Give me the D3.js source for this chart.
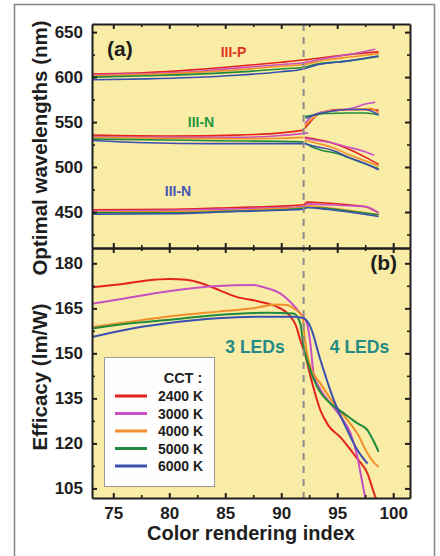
<!DOCTYPE html>
<html>
<head>
<meta charset="utf-8">
<script src="https://cdn.jsdelivr.net/npm/d3@7/dist/d3.min.js"></script>
<style>
  html, body { margin: 0; padding: 0; background: #ffffff; }
  svg { display: block; }
  text { font-family: "Liberation Sans", Arial, Helvetica, sans-serif; font-weight: bold; }
</style>
</head>
<body>
<svg id="chart" width="440" height="556"></svg>
<script>
// ---- Data ----
const cctLabels = ["2400 K", "3000 K", "4000 K", "5000 K", "6000 K"];
const cctColors = ["#e2231f", "#c94fc4", "#f0902c", "#1f8a3b", "#3a4fb0"];

const xTicks = [75, 80, 85, 90, 95, 100];
const wlTicks = [450, 500, 550, 600, 650];
const effTicks = [105, 120, 135, 150, 165, 180];
const ledBoundary = 92.0;   // CRI where the optimum switches from 3 to 4 LEDs

// (a) III-P red emitter wavelength, one list per CCT: [CRI, nm]
const wlRedP = [
  [[73.2,603.5],[78,605],[82,608],[86,612],[90,616.5],[92,619],[94,622],[96,625],[98.7,628]],
  [[73.2,602.5],[78,604],[82,606],[86,610],[90,614],[92,616],[94,621],[96,625],[98.4,631]],
  [[73.2,601.5],[78,603],[82,605],[86,608],[90,612],[92,614],[94,619],[96,622],[98.7,626]],
  [[73.2,600],[78,601.5],[82,603],[86,605.5],[90,609],[92,611],[93,614],[96,618],[98.7,623]],
  [[73.2,597],[78,598],[82,599.5],[86,602],[90,606],[92,609],[93,613],[96,618],[98.7,623.5]]
];
// (a) III-N green emitter, 3-LED solutions
const wlGreen3 = [
  [[73.2,535.5],[80,534.5],[86,535.5],[90,538],[92,541]],
  [[73.2,534],[80,533],[86,533],[90,535],[92.4,538]],
  [[73.2,533],[80,532],[86,531.5],[90,532],[92,533]],
  [[73.2,531],[80,530],[86,529],[90,528.5],[92,528]],
  [[73.2,529.5],[78,527],[84,526],[90,526],[92,526]]
];
// (a) 4-LED solutions: yellow-green emitter
const wlGreenUpper = [
  [[92.1,543],[92.6,550],[93.2,558],[94,562],[95,564],[96.5,564],[98,564],[98.7,563]],
  [[92.1,548],[92.7,556],[93.5,561],[95,563],[96.5,566],[97.5,570],[98.4,572]],
  [[92.1,546],[92.7,553],[93.5,560],[95,563],[96.5,564],[98,565],[98.7,560]],
  [[92.1,556],[93,558],[94,559.5],[96,560],[97.5,560],[98.7,558]],
  [[92.2,554],[93,558],[94,561],[96,564],[97.5,564],[98.7,558]]
];
// (a) 4-LED solutions: cyan-green emitter
const wlGreenLower = [
  [[92.1,533],[93,531],[94.5,527],[96,520],[97.5,511],[98.7,503]],
  [[92.1,532],[93,530],[94.5,527],[96,522],[97.5,517],[98.3,513]],
  [[92.1,530],[93,527],[94.5,522],[96,514],[97.5,507],[98.7,501]],
  [[92.1,527],[92.8,522],[93.5,519],[95,515],[96.5,508],[98.7,498]],
  [[92.1,526],[93,523],[94.5,519],[96,511],[97.5,504],[98.7,497]]
];
// (a) III-N blue emitter
const wlBlue = [
  [[73.2,452.5],[80,453],[86,455],[90,456.5],[92,458],[92.3,461],[94,460],[96,458],[97.5,456],[98.7,449]],
  [[73.2,451],[80,452],[86,453.5],[90,455],[92,456],[92.3,459],[94,458],[96,457],[97.5,456],[98.7,449]],
  [[73.2,450],[80,450.5],[86,452],[90,454],[92,455],[92.3,457],[94,455],[96,452],[98.7,447]],
  [[73.2,449],[80,449],[86,451],[90,452.5],[92,454],[92.3,455],[94,454],[96,451],[98.7,447]],
  [[73.2,447.5],[80,448],[86,450.5],[90,452],[92,453],[92.3,455],[94,453],[96,450],[98.7,445]]
];

// (b) luminous efficacy, one list per CCT: [CRI, lm/W]
const efficacy = [
  [[73.1,172],[76,173.2],[78,174.3],[80,174.8],[81.5,174.5],[83,173.2],[84.5,171],[86,168.8],[88,167.3],[89.5,165.7],[90.7,162.8],[91.3,159.4],[91.7,154.5],[92.1,150],[92.7,141],[93.5,131],[94.2,126],[95.3,122],[96.2,117.8],[96.9,114.4],[97.7,110],[98.2,104.4],[98.6,100]],
  [[73.1,166.5],[76,168.3],[79.8,170.6],[84.3,172.4],[87.5,172.8],[88.7,171.7],[89.9,170],[90.8,167.2],[91.7,163.3],[92.3,160],[92.6,153.3],[92.9,143],[93.5,138],[94.4,133.3],[95.3,128.9],[96.2,123.3],[96.8,115.5],[97.2,107.8],[97.6,100]],
  [[73.1,158.8],[76,160.3],[79.8,162.2],[84.3,163.9],[87.5,165],[89.6,166.3],[90.5,166.1],[91.1,165],[91.9,162.2],[92.1,155],[92.6,145.5],[93.5,140],[94.7,133.3],[95.9,127.8],[96.8,123.3],[97.7,116.7],[98.3,113.5],[98.7,112.2]],
  [[73.1,158.3],[76,159.8],[79.8,161.1],[84.3,162.8],[88.7,163.5],[91.1,163.3],[91.7,160],[92.0,152.2],[92.5,145.5],[93.2,138.9],[94.4,133.3],[95.6,130],[96.8,126.7],[97.7,124.4],[98.2,121.1],[98.7,117.2]],
  [[73.1,155.4],[76,157.8],[79.8,160],[84.3,161.7],[88.7,162.2],[91.1,162.2],[92.0,161.7],[92.6,158.9],[93.5,147.8],[94.7,134.4],[95.9,124.4],[96.8,117.8],[97.7,113.3]]
];

// ---- Layout ----
const svg = d3.select("#chart");
const L = 92, R = 410, T = 24, MID = 248, B = 498;
const plotBg = "#f9eca6";
const ink = "#1e1e1e";

const x = d3.scaleLinear().domain([73.1, 101.5]).range([L, R]);
const yA = d3.scaleLinear().domain([410, 659]).range([MID, T]);
const yB = d3.scaleLinear().domain([101.8, 185.1]).range([B, MID]);

// outer frame
svg.append("rect").attr("x", 14.5).attr("y", 4.5).attr("width", 420).attr("height", 600)
  .attr("fill", "#ffffff").attr("stroke", "#8a8a8a").attr("stroke-width", 1.6);

// plot backgrounds
svg.append("rect").attr("x", L).attr("y", T).attr("width", R - L).attr("height", B - T).attr("fill", plotBg);

const defs = svg.append("defs");
defs.append("clipPath").attr("id", "clipA").append("rect")
  .attr("x", L).attr("y", T).attr("width", R - L).attr("height", MID - T);
defs.append("clipPath").attr("id", "clipB").append("rect")
  .attr("x", L).attr("y", MID).attr("width", R - L).attr("height", B - MID);

// ---- Panel (a) curves ----
const lineA = d3.line().x(d => x(d[0])).y(d => yA(d[1])).curve(d3.curveMonotoneX);
const gA = svg.append("g").attr("clip-path", "url(#clipA)");
[wlRedP, wlGreen3, wlGreenUpper, wlGreenLower, wlBlue].forEach(group => {
  group.forEach((pts, i) => {
    gA.append("path").attr("d", lineA(pts)).attr("fill", "none")
      .attr("stroke", cctColors[i]).attr("stroke-width", 1.6).attr("stroke-linejoin", "round");
  });
});

// ---- Panel (b) curves ----
const lineB = d3.line().x(d => x(d[0])).y(d => yB(d[1])).curve(d3.curveMonotoneX);
const gB = svg.append("g").attr("clip-path", "url(#clipB)");
efficacy.forEach((pts, i) => {
  gB.append("path").attr("d", lineB(pts)).attr("fill", "none")
    .attr("stroke", cctColors[i]).attr("stroke-width", 2).attr("stroke-linejoin", "round");
});

// 3-LED / 4-LED boundary
svg.append("line").attr("x1", x(ledBoundary)).attr("x2", x(ledBoundary)).attr("y1", T).attr("y2", B)
  .attr("stroke", "#8c8c8c").attr("stroke-width", 2).attr("stroke-dasharray", "7,6");

// ---- Axes ----
function range(a, b, s) { const r = []; for (let v = a; v <= b + 1e-9; v += s) r.push(+v.toFixed(3)); return r; }
const xMinor = range(77.5, 97.5, 5);
const wlMinor = range(425, 625, 50);
const effMinor = range(112.5, 172.5, 15);

function drawAxis(gen, tx, ty, major, minor, labels) {
  const gMaj = svg.append("g").attr("transform", `translate(${tx},${ty})`)
    .call(gen.tickValues(major).tickSizeInner(-5).tickSizeOuter(0).tickPadding(labels ? 9 : 0)
      .tickFormat(labels ? d3.format("d") : () => ""));
  gMaj.select(".domain").attr("stroke", ink).attr("stroke-width", 2);
  gMaj.selectAll(".tick line").attr("stroke", ink).attr("stroke-width", 2);
  gMaj.selectAll(".tick text").attr("fill", ink).style("font-size", "17px").style("font-weight", "bold")
    .style("font-family", '"Liberation Sans", Arial, sans-serif');
  const gMin = svg.append("g").attr("transform", `translate(${tx},${ty})`)
    .call(gen.tickValues(minor).tickSizeInner(-3).tickSizeOuter(0).tickFormat(() => ""));
  gMin.select(".domain").remove();
  gMin.selectAll(".tick line").attr("stroke", ink).attr("stroke-width", 1.6);
}

// panel (a)
drawAxis(d3.axisLeft(yA), L, 0, wlTicks, wlMinor, true);
drawAxis(d3.axisRight(yA), R, 0, wlTicks, wlMinor, false);
drawAxis(d3.axisTop(x), 0, T, xTicks, xMinor, false);
drawAxis(d3.axisBottom(x), 0, MID, xTicks, xMinor, false);
// panel (b)
drawAxis(d3.axisLeft(yB), L, 0, effTicks, effMinor, true);
drawAxis(d3.axisRight(yB), R, 0, effTicks, effMinor, false);
drawAxis(d3.axisTop(x), 0, MID, xTicks, xMinor, false);
drawAxis(d3.axisBottom(x), 0, B, xTicks, xMinor, true);

// ---- Legend ----
const lg = svg.append("g");
lg.append("rect").attr("x", 104.5).attr("y", 357.5).attr("width", 110).attr("height", 129)
  .attr("fill", "#fefefe").attr("stroke", "#9a9a9a").attr("stroke-width", 1);
lg.append("text").attr("x", 183).attr("y", 383).attr("text-anchor", "middle")
  .attr("fill", ink).style("font-size", "14.5px").text("CCT :");
cctLabels.forEach((lab, i) => {
  const yy = 396 + i * 17.5;
  lg.append("line").attr("x1", 115).attr("x2", 147).attr("y1", yy).attr("y2", yy)
    .attr("stroke", cctColors[i]).attr("stroke-width", 3);
  lg.append("text").attr("x", 158).attr("y", yy + 5).attr("fill", ink)
    .style("font-size", "14px").text(lab);
});

// ---- Annotations ----
svg.append("text").attr("x", 107).attr("y", 56).attr("fill", ink).style("font-size", "21px").text("(a)");
svg.append("text").attr("x", 397).attr("y", 270).attr("text-anchor", "end").attr("fill", ink)
  .style("font-size", "21px").text("(b)");

svg.append("text").attr("x", 233.5).attr("y", 56.5).attr("text-anchor", "middle")
  .attr("fill", "#e0321e").style("font-size", "14px").text("III-P");
svg.append("text").attr("x", 201).attr("y", 127).attr("text-anchor", "middle")
  .attr("fill", "#25963c").style("font-size", "14px").text("III-N");
svg.append("text").attr("x", 178).attr("y", 196).attr("text-anchor", "middle")
  .attr("fill", "#4656b4").style("font-size", "14px").text("III-N");

svg.append("text").attr("x", 255).attr("y", 353).attr("text-anchor", "middle")
  .attr("fill", "#248a86").style("font-size", "17.5px").text("3 LEDs");
svg.append("text").attr("x", 359.5).attr("y", 353).attr("text-anchor", "middle")
  .attr("fill", "#248a86").style("font-size", "17.5px").text("4 LEDs");

// axis titles
svg.append("text").attr("transform", `translate(47,${(T + MID) / 2 + 12}) rotate(-90)`)
  .attr("text-anchor", "middle").attr("fill", ink).style("font-size", "20.5px")
  .text("Optimal wavelengths (nm)");
svg.append("text").attr("transform", `translate(47,${(MID + B) / 2 + 4}) rotate(-90)`)
  .attr("text-anchor", "middle").attr("fill", ink).style("font-size", "20.5px")
  .text("Efficacy (lm/W)");
svg.append("text").attr("x", 251).attr("y", 540).attr("text-anchor", "middle")
  .attr("fill", ink).style("font-size", "20px").text("Color rendering index");
</script>
</body>
</html>
